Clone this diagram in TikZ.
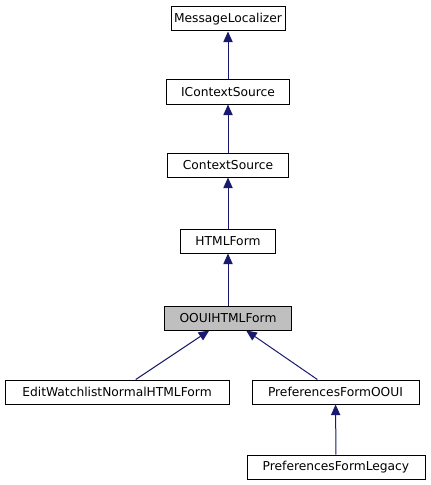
\documentclass[tikz,border=0pt]{standalone}
\usepackage{fontspec}
\setmainfont{DejaVu Sans}
\usetikzlibrary{arrows.meta}
\definecolor{edgeblue}{RGB}{25,25,112}
\definecolor{nodegray}{RGB}{191,191,191}

\begin{document}
\begin{tikzpicture}[x=0.75pt,y=0.75pt,yscale=-1,xscale=1,
  classbox/.style={draw=black,fill=white,line width=0.75pt,minimum height=18pt,inner sep=0pt,font=\fontsize{9.2pt}{11pt}\selectfont},
  curclass/.style={classbox,fill=nodegray},
  inherit/.style={edgeblue,line width=0.75pt,{Triangle[length=8pt,width=7pt]}-}]
\useasboundingbox (0,0) rectangle (431,485);

% class boxes
\node[classbox,minimum width=85.5pt] (msgloc) at (228,19) {MessageLocalizer};
\node[classbox,minimum width=92.25pt] (icontext) at (228,92) {IContextSource};
\node[classbox,minimum width=90.75pt] (context) at (228,165) {ContextSource};
\node[classbox,minimum width=71.25pt] (htmlform) at (228,241) {HTMLForm};
\node[curclass,minimum width=95.25pt] (oouiform) at (228,318) {OOUIHTMLForm};
\node[classbox,minimum width=168pt] (editwatch) at (117,392) {EditWatchlistNormalHTMLForm};
\node[classbox,minimum width=125.25pt] (prefooui) at (335.5,392) {PreferencesFormOOUI};
\node[classbox,minimum width=133.5pt] (preflegacy) at (336,467) {PreferencesFormLegacy};

% inheritance edges
\draw[inherit] (msgloc) -- (icontext);
\draw[inherit] (icontext) -- (context);
\draw[inherit] (context) -- (htmlform);
\draw[inherit] (htmlform) -- (oouiform);
\draw[inherit] (oouiform) -- (editwatch);
\draw[inherit] (oouiform) -- (prefooui);
\draw[inherit] (prefooui) -- (preflegacy);

\end{tikzpicture}
\end{document}
